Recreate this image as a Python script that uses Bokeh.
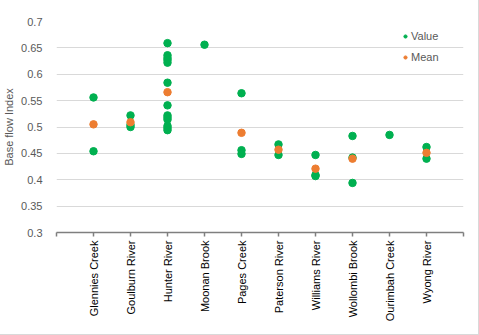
from bokeh.plotting import figure
from bokeh.models import FixedTicker, Legend, LegendItem
from bokeh.embed import file_html
from bokeh.resources import INLINE
import math

categories = ["Glennies Creek", "Goulburn River", "Hunter River", "Moonan Brook",
              "Pages Creek", "Paterson River", "Williams River", "Wollombi Brook",
              "Ourimbah Creek", "Wyong River"]

values = {
    "Glennies Creek": [0.556, 0.454],
    "Goulburn River": [0.522, 0.504, 0.500],
    "Hunter River": [0.659, 0.636, 0.631, 0.627, 0.622, 0.584, 0.541,
                     0.522, 0.518, 0.514, 0.502, 0.498, 0.494],
    "Moonan Brook": [0.656],
    "Pages Creek": [0.564, 0.456, 0.449],
    "Paterson River": [0.467, 0.447],
    "Williams River": [0.447, 0.409, 0.407],
    "Wollombi Brook": [0.483, 0.442, 0.394],
    "Ourimbah Creek": [0.485],
    "Wyong River": [0.462, 0.440],
}

mean_values = [0.505, 0.509, 0.566, None, 0.489, 0.457, 0.421, 0.440, None, 0.451]

y_ticks = [0.3, 0.35, 0.4, 0.45, 0.5, 0.55, 0.6, 0.65, 0.7]

GREEN = "#00b050"
ORANGE = "#ed7d31"
TXT = "#595959"
FONT = "Liberation Sans"

vx, vy = [], []
for i, c in enumerate(categories):
    for v in values[c]:
        vx.append(i + 1)
        vy.append(v)
mx, my = [], []
for i, m in enumerate(mean_values):
    if m is not None:
        mx.append(i + 1)
        my.append(m)

p = figure(width=479, height=335, output_backend="svg", toolbar_location=None,
           x_range=(0, len(categories) + 1), y_range=(0.3, 0.7),
           min_border_left=55, min_border_right=16, min_border_top=21,
           min_border_bottom=103)
p.outline_line_color = None
p.background_fill_color = "white"
p.border_fill_color = "white"
p.styles = {"border-right": "1px solid #d9d9d9", "border-bottom": "1px solid #d9d9d9",
            "box-sizing": "border-box"}

r_val = p.scatter(vx, vy, size=7.5, color=GREEN, line_color=GREEN)
r_mean = p.scatter(mx, my, size=7.5, color=ORANGE, line_color=ORANGE)

# x axis
xa = p.xaxis[0]
xa.ticker = FixedTicker(ticks=list(range(0, len(categories) + 2)))
overrides = {0: "", len(categories) + 1: ""}
for i, c in enumerate(categories):
    overrides[i + 1] = c
xa.major_label_overrides = overrides
xa.major_label_orientation = math.pi / 2
xa.axis_line_color = "#7f7f7f"
xa.axis_line_width = 1.5
xa.major_tick_line_color = "#7f7f7f"
xa.major_tick_line_width = 1.5
xa.major_tick_out = 4
xa.major_tick_in = 0
xa.minor_tick_line_color = None
xa.major_label_text_font = FONT
xa.major_label_text_font_size = "11px"
xa.major_label_text_color = "#000000"
xa.major_label_standoff = 4

# y axis
ya = p.yaxis[0]
ya.ticker = FixedTicker(ticks=y_ticks)
ya.major_label_overrides = {t: str(t) for t in y_ticks}
ya.axis_line_color = None
ya.major_tick_line_color = None
ya.minor_tick_line_color = None
ya.major_label_text_font = FONT
ya.major_label_text_font_size = "11px"
ya.major_label_text_color = TXT
ya.major_label_standoff = 8
ya.axis_label = "Base flow Index"
ya.axis_label_text_font = FONT
ya.axis_label_text_font_size = "11px"
ya.axis_label_text_font_style = "normal"
ya.axis_label_text_color = TXT
ya.axis_label_standoff = 3

p.xgrid.grid_line_color = None
p.ygrid.ticker = FixedTicker(ticks=y_ticks)
p.ygrid.grid_line_color = "#d9d9d9"
p.ygrid.grid_line_width = 1

legend = Legend(items=[LegendItem(label="Value", renderers=[r_val]),
                       LegendItem(label="Mean", renderers=[r_mean])],
                location="top_right")
legend.background_fill_alpha = 0
legend.border_line_color = None
legend.label_text_font = FONT
legend.label_text_font_size = "11px"
legend.label_text_color = TXT
legend.glyph_width = 8
legend.glyph_height = 12
legend.label_standoff = 2
legend.spacing = 9
legend.padding = 0
legend.margin = 0
legend.location = (345, 169)
p.add_layout(legend, "center")

open("out.html", "w").write(file_html(p, INLINE))
